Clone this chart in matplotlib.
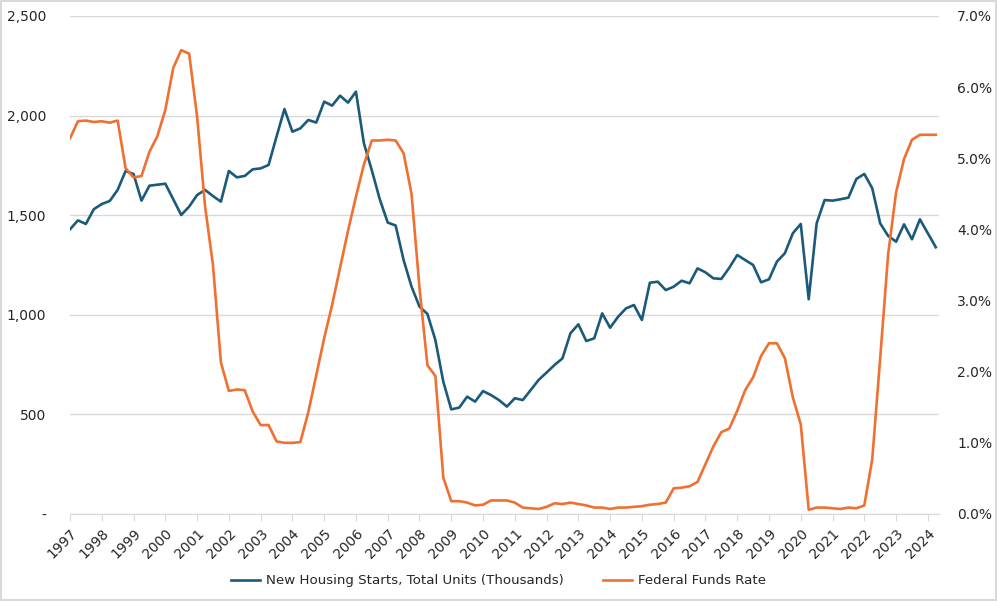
import numpy as np
import matplotlib
matplotlib.use("Agg")
import matplotlib.pyplot as plt
from matplotlib.ticker import FuncFormatter

# Quarterly data, 1997 Q1 - 2024 Q2
start_year = 1997

housing_starts = [
    1429, 1474, 1456, 1530,   # 1997
    1556, 1571, 1627, 1722,   # 1998
    1707, 1573, 1648, 1653,   # 1999
    1658, 1580, 1501, 1543,   # 2000
    1601, 1627, 1596, 1568,   # 2001
    1722, 1690, 1697, 1730,   # 2002
    1735, 1752, 1894, 2033,   # 2003
    1919, 1936, 1978, 1965,   # 2004
    2070, 2050, 2100, 2065,   # 2005
    2120, 1861, 1725, 1580,   # 2006
    1463, 1448, 1275, 1141,   # 2007
    1041, 1004, 873, 664,     # 2008
    525, 534, 589, 564,       # 2009
    617, 597, 572, 539,       # 2010
    581, 572, 622, 673,       # 2011
    710, 748, 781, 907,       # 2012
    952, 868, 882, 1007,      # 2013
    935, 990, 1032, 1049,     # 2014
    974, 1161, 1166, 1124,    # 2015
    1141, 1171, 1158, 1233,   # 2016
    1213, 1183, 1180, 1236,   # 2017
    1300, 1275, 1250, 1163,   # 2018
    1178, 1267, 1309, 1409,   # 2019
    1456, 1078, 1459, 1576,   # 2020
    1573, 1580, 1588, 1682,   # 2021
    1707, 1635, 1459, 1396,   # 2022
    1367, 1454, 1379, 1479,   # 2023
    1409, 1339,               # 2024
]

fed_funds = [
    5.28, 5.52, 5.53, 5.51,   # 1997
    5.52, 5.50, 5.53, 4.86,   # 1998
    4.73, 4.75, 5.09, 5.31,   # 1999
    5.68, 6.27, 6.52, 6.47,   # 2000
    5.59, 4.33, 3.50, 2.13,   # 2001
    1.73, 1.75, 1.74, 1.44,   # 2002
    1.25, 1.25, 1.02, 1.00,   # 2003
    1.00, 1.01, 1.43, 1.95,   # 2004
    2.47, 2.94, 3.46, 3.98,   # 2005
    4.46, 4.91, 5.25, 5.25,   # 2006
    5.26, 5.25, 5.07, 4.50,   # 2007
    3.18, 2.09, 1.94, 0.51,   # 2008
    0.18, 0.18, 0.16, 0.12,   # 2009
    0.13, 0.19, 0.19, 0.19,   # 2010
    0.16, 0.09, 0.08, 0.07,   # 2011
    0.10, 0.15, 0.14, 0.16,   # 2012
    0.14, 0.12, 0.09, 0.09,   # 2013
    0.07, 0.09, 0.09, 0.10,   # 2014
    0.11, 0.13, 0.14, 0.16,   # 2015
    0.36, 0.37, 0.39, 0.45,   # 2016
    0.70, 0.95, 1.15, 1.20,   # 2017
    1.45, 1.74, 1.92, 2.22,   # 2018
    2.40, 2.40, 2.19, 1.64,   # 2019
    1.26, 0.06, 0.09, 0.09,   # 2020
    0.08, 0.07, 0.09, 0.08,   # 2021
    0.12, 0.77, 2.19, 3.65,   # 2022
    4.52, 4.99, 5.26, 5.33,   # 2023
    5.33, 5.33,               # 2024
]

year_ticks = list(range(1997, 2025))

# x positions: fractional years per quarter
x = start_year + np.arange(len(housing_starts)) / 4.0

blue = "#1b5a7a"
orange = "#ef7030"
grid_col = "#d9d9d9"
text_col = "#262626"

plt.rcParams["font.family"] = ["DejaVu Sans"]

fig = plt.figure(figsize=(9.97, 6.01), dpi=100)
fig.patch.set_edgecolor("#d9d9d9")
fig.patch.set_linewidth(1.5)
ax = fig.add_axes([0.0702, 0.1448, 0.8716, 0.8286])
ax2 = ax.twinx()

l1, = ax.plot(x, housing_starts, color=blue, lw=1.9,
              label="New Housing Starts, Total Units (Thousands)")
l2, = ax2.plot(x, fed_funds, color=orange, lw=1.9, label="Federal Funds Rate")

# left axis
ax.set_ylim(0, 2500)
ax.set_yticks([0, 500, 1000, 1500, 2000, 2500])
ax.yaxis.set_major_formatter(FuncFormatter(lambda v, p: "-" if v == 0 else "{:,.0f}".format(v)))
ax.grid(axis="y", color=grid_col, lw=1)
ax.set_axisbelow(True)

# right axis
ax2.set_ylim(0, 7)
ax2.set_yticks(range(0, 8))
ax2.yaxis.set_major_formatter(FuncFormatter(lambda v, p: "{:.1f}%".format(v)))

ax.set_xlim(1997, 2024.35)
ax.set_xticks(year_ticks)
ax.set_xticklabels([str(y) for y in year_ticks], rotation=45, ha="right",
                   rotation_mode="anchor", fontsize=10, color=text_col)

for a in (ax, ax2):
    for s in ["top", "left", "right"]:
        a.spines[s].set_visible(False)
    a.spines["bottom"].set_color(grid_col)
    a.tick_params(axis="y", length=0, labelsize=10, labelcolor=text_col)
ax.tick_params(axis="y", pad=17)
ax2.tick_params(axis="y", pad=13)
ax.tick_params(axis="x", length=5, color=grid_col, pad=4)

fig.legend(handles=[l1, l2], loc="lower center", bbox_to_anchor=(0.5, 0.003),
           ncol=2, frameon=False, fontsize=9.6, handlelength=2.2,
           handletextpad=0.45, columnspacing=2.9, labelcolor=text_col)

fig.savefig("out.png", dpi=100)
